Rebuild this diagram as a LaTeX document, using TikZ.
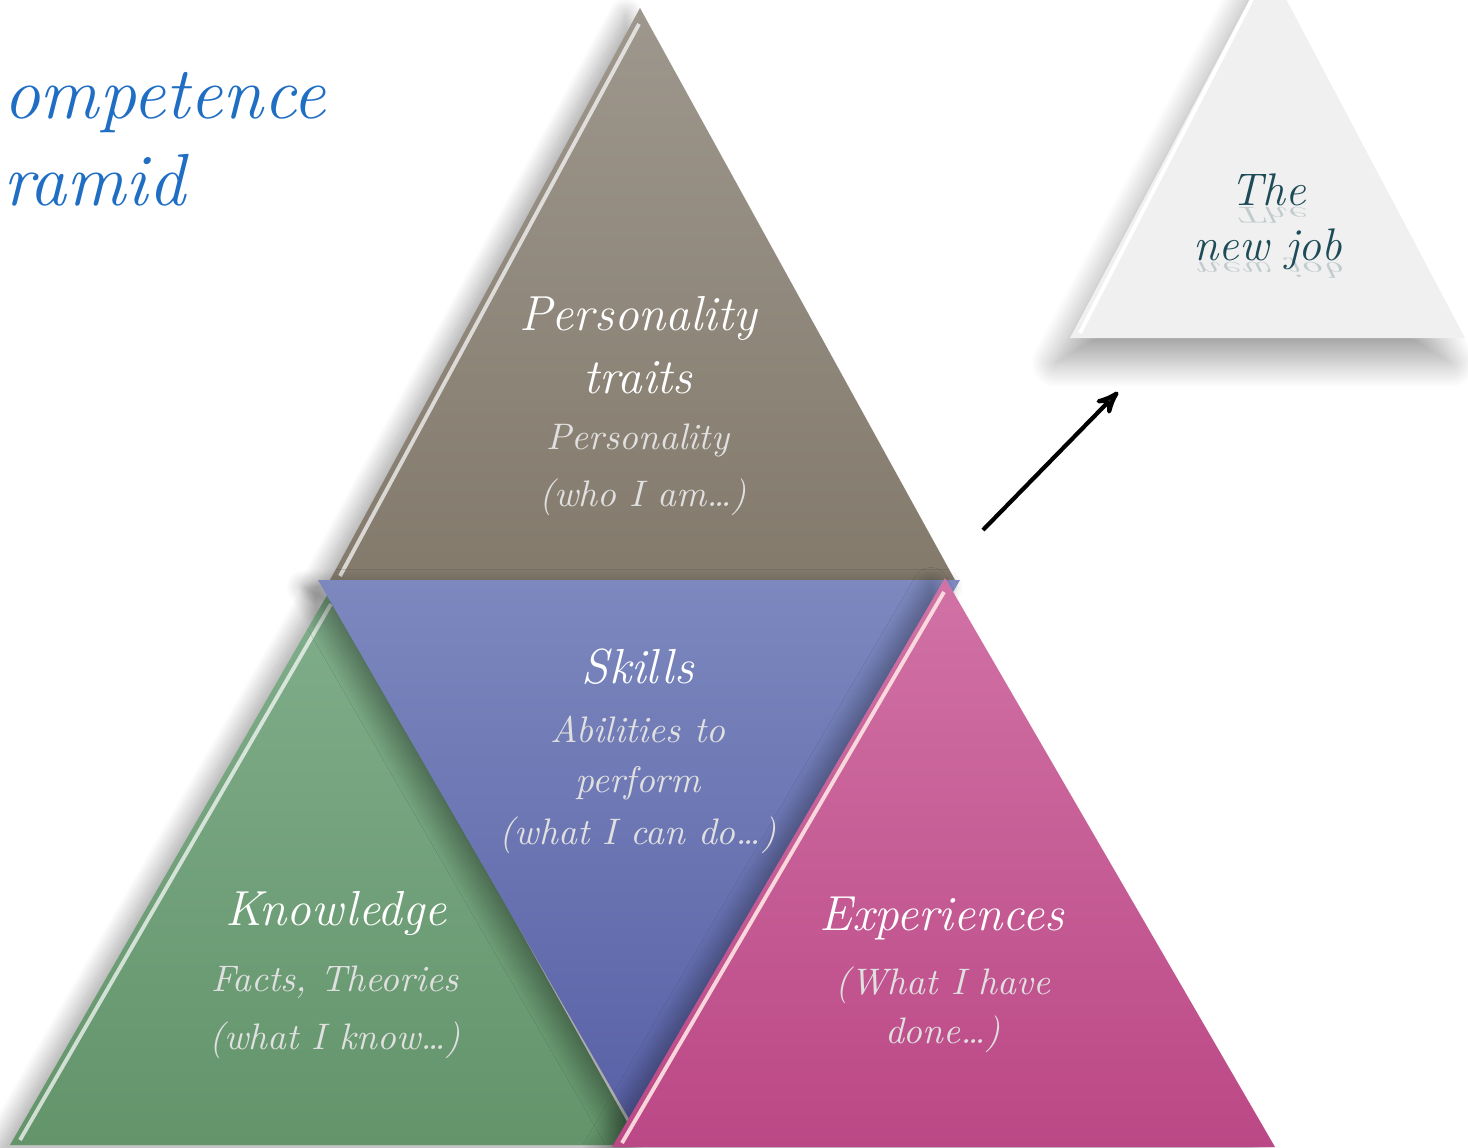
\documentclass[tikz,border=0pt]{standalone}
\usepackage{tikz}
\usetikzlibrary{arrows,shadows.blur}

\newcommand{\hand}{\itshape}
\definecolor{brownTop}{HTML}{9E978D}
\definecolor{brownBot}{HTML}{837A6C}
\definecolor{greenTop}{HTML}{80AE8B}
\definecolor{greenBot}{HTML}{63946A}
\definecolor{blueTop}{HTML}{7C88BE}
\definecolor{blueBot}{HTML}{5860A6}
\definecolor{pinkTop}{HTML}{D172A5}
\definecolor{pinkBot}{HTML}{BB4886}
\definecolor{jobFill}{HTML}{F0F0F0}
\definecolor{jobInk}{HTML}{1D4B57}
\definecolor{titleBlue}{HTML}{1F6EC4}

\begin{document}
\begin{tikzpicture}[x=0.01cm,y=-0.01cm,>=stealth',semithick]
  \tikzstyle{facet}=[blur shadow={shadow xshift=-4pt,shadow yshift=-2pt,
    shadow blur radius=5pt,shadow blur steps=24,shadow opacity=35}]
  \tikzstyle{bevel}=[draw=white,line width=1.1pt,opacity=0.7]
  \tikzstyle{head}=[text=white,font=\hand\fontsize{14}{18}\selectfont,align=center]
  \tikzstyle{sub}=[text=white!88!black,font=\hand\fontsize{10.5}{14}\selectfont,align=center]
  \tikzstyle{jobtext}=[text=jobInk,font=\hand\fontsize{13}{16}\selectfont,inner sep=0pt,anchor=base]
  \tikzstyle{mirror}=[jobtext,yscale=-0.5,opacity=0.22]
  \tikzstyle{title}=[text=titleBlue,font=\hand\fontsize{21}{26}\selectfont,anchor=base west,inner sep=0pt]

  \useasboundingbox (0,0) rectangle (1468,1147);
  \clip (0,0) rectangle (1468,1147);

  % title at the left edge
  \node[title] (titleTop) at (2,118) {ompetence};
  \node[title] (titleBot) at (2,205) {ramid};

  % the new job
  \shade[top color=jobFill,bottom color=jobFill,
    blur shadow={shadow xshift=-4pt,shadow yshift=-7pt,shadow blur radius=7pt,
      shadow blur steps=24,shadow opacity=35}]
    (1268,-35) -- (1465,338) -- (1070,338) -- cycle;
  \draw[bevel,opacity=1] (1080,333) -- (1262,-20);
  \node[jobtext] (jobThe) at (1268,205) {The};
  \node[mirror] (jobTheR) at (1268,207) {The};
  \node[jobtext] (jobNew) at (1268,260) {new job};
  \node[mirror] (jobNewR) at (1268,262) {new job};

  % pyramid
  \shade[facet,top color=brownTop,bottom color=brownBot]
    (640,8) -- (955,580) -- (330,580) -- cycle;
  \draw[bevel] (340,576) -- (639,24);
  \shade[facet,top color=greenTop,bottom color=greenBot]
    (330,590) -- (640,1145) -- (10,1145) -- cycle;
  \draw[bevel] (20,1140) -- (331,604);
  \shade[facet,top color=blueTop,bottom color=blueBot]
    (318,580) -- (960,580) -- (639,1136) -- cycle;
  \shade[facet,top color=pinkTop,bottom color=pinkBot]
    (945,578) -- (1275,1147) -- (612,1147) -- cycle;
  \draw[bevel,draw=pink!40!white,opacity=0.9] (622,1143) -- (944,592);

  \node[head] (traits) at (638,345) {Personality\\traits};
  \node[sub] (personality) at (638,440) {Personality};
  \node[sub] (whoAmI) at (643,497) {(who I am\dots)};
  \node[head] (skills) at (638,667) {Skills};
  \node[sub] (abilities) at (638,758) {Abilities to\\perform};
  \node[sub] (whatCanDo) at (638,835) {(what I can do\dots)};
  \node[head] (knowledge) at (336,913) {Knowledge};
  \node[sub] (facts) at (335,982) {Facts, Theories};
  \node[sub] (whatKnow) at (335,1040) {(what I know\dots)};
  \node[head] (experiences) at (942,918) {Experiences};
  \node[sub] (whatHave) at (943,1010) {(What I have\\done\dots)};

  % arrow to the new job
  \coordinate (arrowTail) at (983,530);
  \coordinate (arrowTip) at (1118,392);
  \draw[->,line width=1.2pt] (arrowTail) -- (arrowTip);
\end{tikzpicture}
\end{document}
